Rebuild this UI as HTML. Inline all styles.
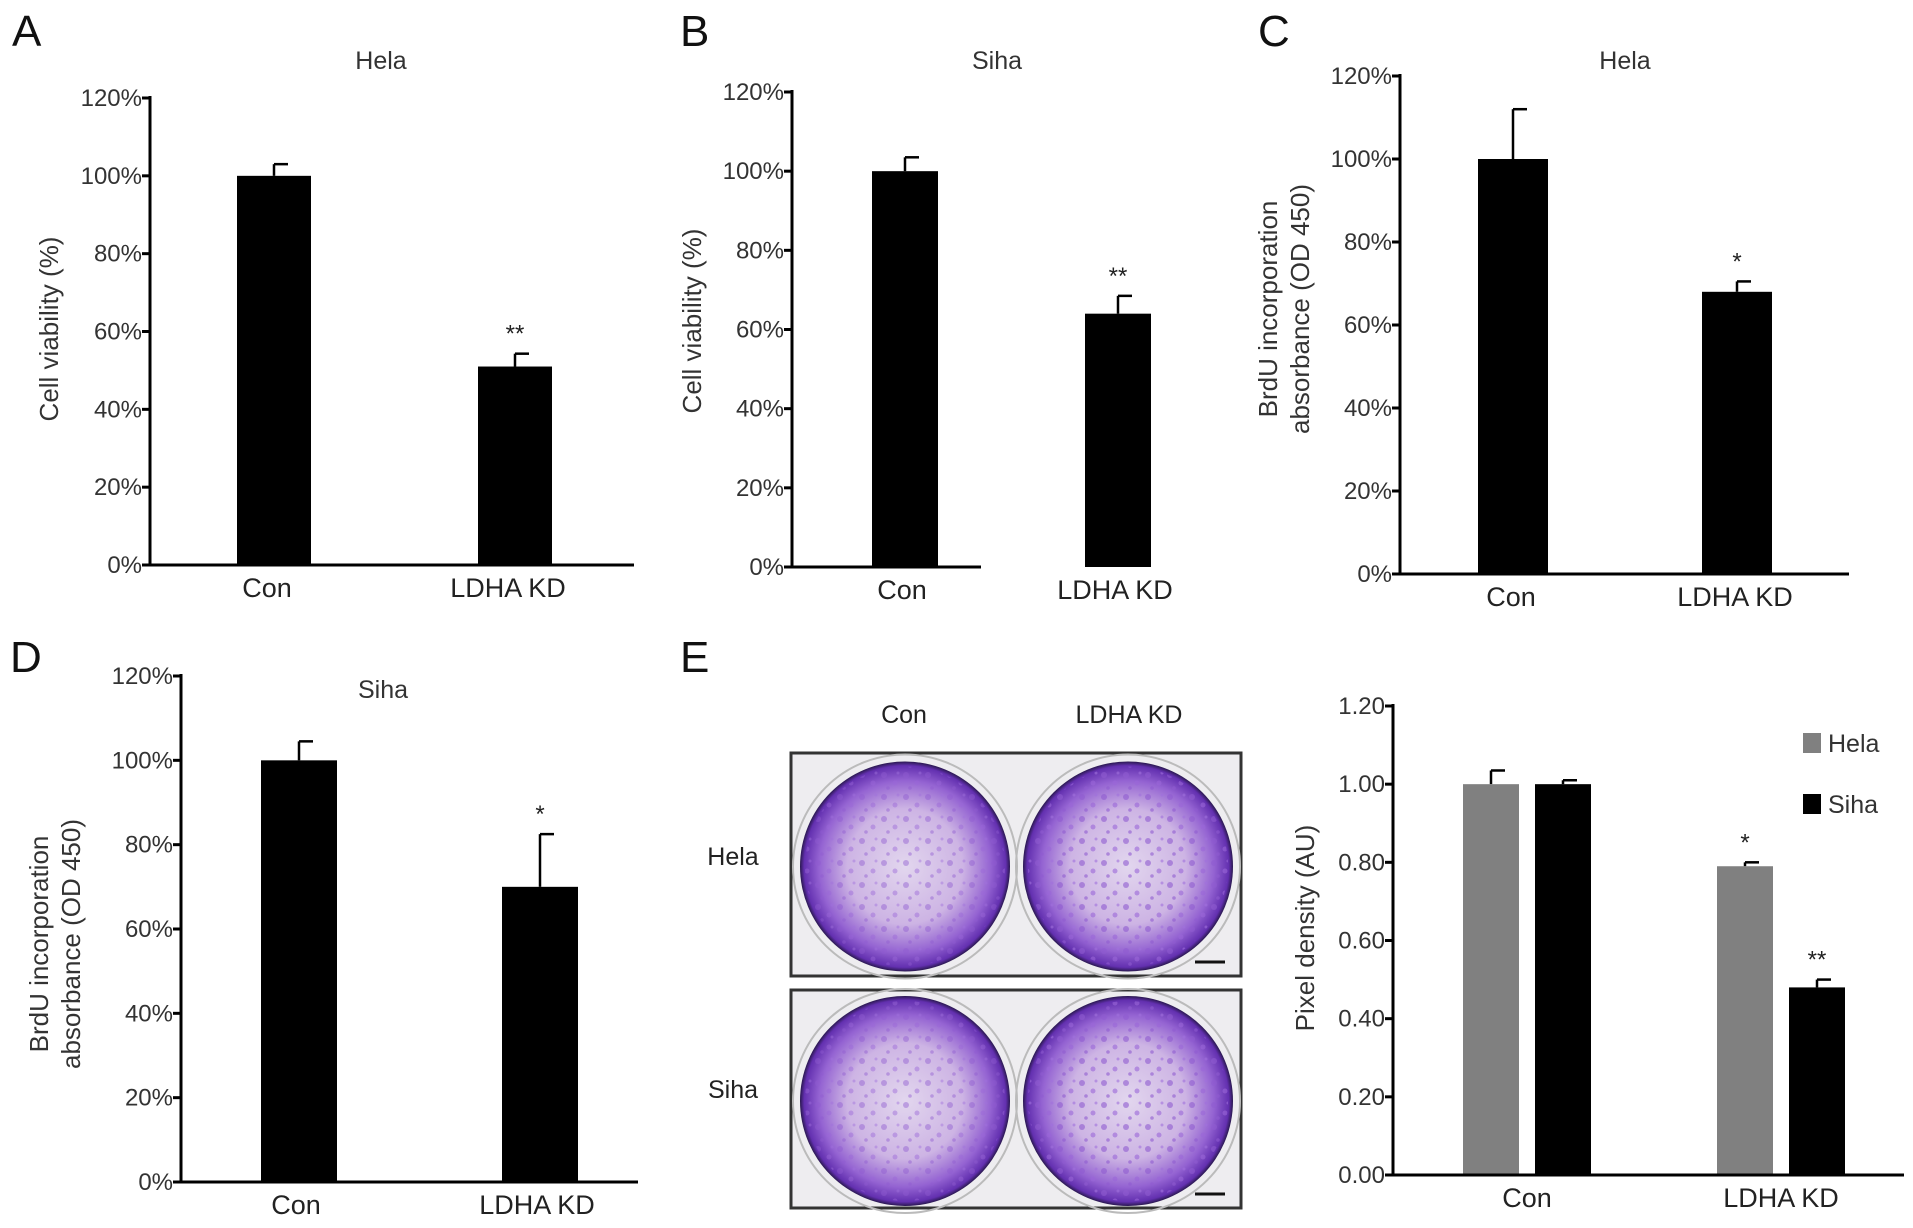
<!DOCTYPE html>
<html><head><meta charset="utf-8"><style>
html,body{margin:0;padding:0;background:#fff;}
svg{display:block;font-family:"Liberation Sans",Arial,sans-serif;}
</style></head><body>
<svg id="fig" width="1913" height="1228" viewBox="0 0 1913 1228" xmlns="http://www.w3.org/2000/svg">
<defs>
<radialGradient id="dish" cx="50%" cy="50%" r="50%">
<stop offset="0%" stop-color="#e2d6ee"/>
<stop offset="55%" stop-color="#cdb4e4"/>
<stop offset="82%" stop-color="#9463d2"/>
<stop offset="96%" stop-color="#6330b0"/>
<stop offset="100%" stop-color="#2a1850"/>
</radialGradient>
<pattern id="spots" width="22" height="22" patternUnits="userSpaceOnUse">
<circle cx="4" cy="5" r="3" fill="#8f5bd0"/><circle cx="15" cy="13" r="2.5" fill="#9a66d8"/><circle cx="8" cy="18" r="1.8" fill="#8f5bd0"/><circle cx="18" cy="3" r="1.5" fill="#a070dc"/>
</pattern>
</defs>
</svg>
<script>
const NS='http://www.w3.org/2000/svg';
const svg=document.getElementById('fig');
function mk(tag,attrs,parent,text){const e=document.createElementNS(NS,tag);for(const k in attrs)e.setAttribute(k,attrs[k]);if(text!==undefined)e.textContent=text;(parent||svg).appendChild(e);return e;}

// Data
const catsAB=['Con','LDHA KD'];
const yTicksPct=[0,20,40,60,80,100,120];
const aVals=[100,51];const aErr=[3,3.3];
const bVals=[100,64];const bErr=[3.5,4.5];
const cVals=[100,68];const cErr=[12,2.5];
const dVals=[100,70];const dErr=[4.5,12.5];
const eSeries=['Hela','Siha'];
const eHela=[1.00,0.79];const eHelaErr=[0.035,0.01];
const eSiha=[1.00,0.48];const eSihaErr=[0.01,0.02];
const eTicks=[0,0.2,0.4,0.6,0.8,1.0,1.2];
const aStars=['','**'],bStars=['','**'],cStars=['','*'],dStars=['','*'];
const eHelaStars=['','*'],eSihaStars=['','**'];

function chart(cfg){
  const g=mk('g',{},svg);
  
  
  const y=v=>cfg.y0-(v-cfg.min)/(cfg.max-cfg.min)*(cfg.y0-cfg.y1);
  cfg.ticks.forEach(t=>{
    const l=mk('line',{x1:cfg.x0-8,x2:cfg.x0,y1:y(t),y2:y(t),stroke:'#000','stroke-width':3},g);
    
    const tx=mk('text',{x:cfg.x0-8,y:y(t)+8,'text-anchor':'end','font-size':24,fill:'#333'},g,cfg.fmt(t));
    
  });
  const ya=mk('line',{x1:cfg.x0,x2:cfg.x0,y1:cfg.y1-2,y2:cfg.y0+1.5,stroke:'#000','stroke-width':3},g);
  
  cfg.groups.forEach((gc,gi)=>{
    cfg.series.forEach((s,si)=>{
      const bx=gc+s.off, v=s.vals[gi], e=s.err[gi];
      const top=y(v), et=y(v+e), cx=bx+cfg.bw/2;
      const el=mk('line',{x1:cx,x2:cx,y1:et,y2:top,stroke:'#000','stroke-width':2.5},g);
      
      const ec=mk('line',{x1:cx,x2:cx+14,y1:et,y2:et,stroke:'#000','stroke-width':2.5},g);
      
      const r=mk('rect',{x:bx,y:top,width:cfg.bw,height:cfg.y0-top,fill:s.color},g);
      
      if(s.stars[gi]){const st=mk('text',{x:cx,y:et-12,'text-anchor':'middle','font-size':24,fill:'#222'},g,s.stars[gi]);
        }
    });
    const cl=mk('text',{x:gc+cfg.labOff,y:cfg.y0+32,'text-anchor':'middle','font-size':27,fill:'#222'},g,cfg.cats[gi]);
    
  });
  const xa=mk('line',{x1:cfg.x0,x2:cfg.xEnd,y1:cfg.y0,y2:cfg.y0,stroke:'#000','stroke-width':3},g);
  
  if(cfg.title){const t=mk('text',{x:cfg.title[0],y:cfg.title[1],'text-anchor':'middle','font-size':25,fill:'#333'},g,cfg.title[2]);
    }
  cfg.ylab.forEach((lab,i)=>{
    const t=mk('text',{x:0,y:0,'text-anchor':'middle','font-size':26,fill:'#333',transform:`translate(${lab[0]},${lab[1]}) rotate(-90)`},g,lab[2]);
    
  });
  if(cfg.letter){const t=mk('text',{x:cfg.letter[0],y:cfg.letter[1],'font-size':44,fill:'#111'},g,cfg.letter[2]);
    }
}
const pct=t=>t+'%';
chart({name:'chart-a-hela-viability',x0:150,y0:565,y1:98,xEnd:634,min:0,max:120,ticks:yTicksPct,fmt:pct,groups:[237,478],bw:74,labOff:30,cats:catsAB,
  series:[{key:'a',off:0,vals:aVals,err:aErr,color:'#000',stars:aStars}],title:[381,69,'Hela'],ylab:[[58,329,'Cell viability (%)']],letter:[12,46,'A']});
chart({name:'chart-b-siha-viability',x0:792,y0:567,y1:92,xEnd:981,min:0,max:120,ticks:yTicksPct,fmt:pct,groups:[872,1085],bw:66,labOff:30,cats:catsAB,
  series:[{key:'b',off:0,vals:bVals,err:bErr,color:'#000',stars:bStars}],title:[997,69,'Siha'],ylab:[[701,321,'Cell viability (%)']],letter:[680,46,'B']});
chart({name:'chart-c-hela-brdu',x0:1400,y0:574,y1:76,xEnd:1849,min:0,max:120,ticks:yTicksPct,fmt:pct,groups:[1478,1702],bw:70,labOff:33,cats:catsAB,
  series:[{key:'c',off:0,vals:cVals,err:cErr,color:'#000',stars:cStars}],title:[1625,69,'Hela'],ylab:[[1277,309,'BrdU incorporation'],[1309,309,'absorbance (OD 450)']],letter:[1258,46,'C']});
chart({name:'chart-d-siha-brdu',x0:181,y0:1182,y1:676,xEnd:638,min:0,max:120,ticks:yTicksPct,fmt:pct,groups:[261,502],bw:76,labOff:35,cats:catsAB,
  series:[{key:'d',off:0,vals:dVals,err:dErr,color:'#000',stars:dStars}],title:[383,698,'Siha'],ylab:[[48,944,'BrdU incorporation'],[80,944,'absorbance (OD 450)']],letter:[10,672,'D']});
chart({name:'chart-e-pixel-density',x0:1393,y0:1175,y1:706,xEnd:1904,min:0,max:1.2,ticks:eTicks,fmt:t=>t.toFixed(2),groups:[1463,1717],bw:56,labOff:64,cats:catsAB,
  series:[{key:'hela',off:0,vals:eHela,err:eHelaErr,color:'#808080',stars:eHelaStars},{key:'siha',off:72,vals:eSiha,err:eSihaErr,color:'#000',stars:eSihaStars}],
  title:null,ylab:[[1314,928,'Pixel density (AU)']],letter:[680,672,'E']});
[['Hela','#808080',733],['Siha','#000',794]].forEach(l=>{
  const g=mk('g',{},svg);
  mk('rect',{x:1803,y:l[2],width:18,height:20,fill:l[1]},g);
  mk('text',{x:1828,y:l[2]+19,'font-size':25,fill:'#333'},g,l[0]);
});
const pg=mk('g',{},svg);
[[753,976],[990,1208]].forEach((r,ri)=>{
  const fr=mk('rect',{x:791,y:r[0],width:450,height:r[1]-r[0],fill:'#eeedf0',stroke:'#333','stroke-width':3},pg);
  
  const cy=(r[0]+r[1])/2+2;
  [905,1128].forEach((cx,ci)=>{
    mk('circle',{cx:cx,cy:cy,r:112,fill:'none',stroke:'#bbb','stroke-width':2},pg);
    const d=mk('circle',{cx:cx,cy:cy,r:105,fill:'url(#dish)'},pg);
    
    mk('circle',{cx:cx,cy:cy,r:100,fill:'url(#spots)',opacity:ci?0.6:0.45},pg);
  });
  mk('line',{x1:1195,x2:1225,y1:r[1]-14,y2:r[1]-14,stroke:'#111','stroke-width':3},pg);
});
[['Con',904,723],['LDHA KD',1129,723],['Hela',733,865],['Siha',733,1098]].forEach(l=>{
  const t=mk('text',{x:l[1],y:l[2],'text-anchor':'middle','font-size':25,fill:'#222'},pg,l[0]);
  
});
</script>
</body></html>
